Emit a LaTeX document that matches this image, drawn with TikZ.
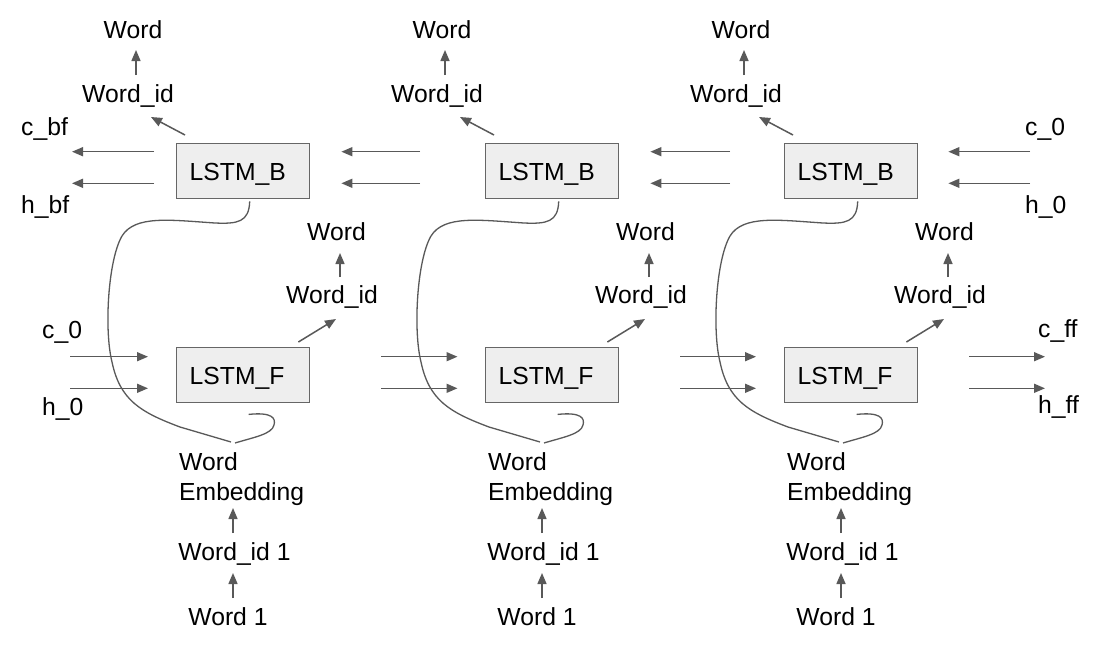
\documentclass[tikz,border=0pt]{standalone}
\usepackage{fontspec}
\setmainfont{Liberation Sans}
\usetikzlibrary{arrows.meta}
\definecolor{linegray}{HTML}{595959}
\definecolor{boxgray}{HTML}{EEEEEE}
\definecolor{boxline}{HTML}{666666}
\tikzset{
  lbl/.style={inner sep=0pt, font=\fontsize{24.7}{30}\selectfont, anchor=base},
  lblw/.style={lbl, anchor=base west},
  lstm/.style={draw=boxline, fill=boxgray, line width=1.4pt, minimum height=55pt,
    text width=107pt, inner xsep=13pt, inner ysep=0pt, align=left,
    text height=18pt, text depth=0pt, font=\fontsize{24.7}{30}\selectfont, anchor=north west},
  arr/.style={draw=linegray, line width=1.5pt, -{Triangle[length=11pt,width=9pt]}},
  wire/.style={draw=linegray, line width=1.3pt},
}
\begin{document}
\begin{tikzpicture}[x=1pt,y=-1pt]
\path[use as bounding box, fill=white] (0,0) rectangle (1101,646);
\foreach \i/\o in {1/0, 2/309, 3/608} {
  \node[lstm] (B\i) at (176+\o,143) {LSTM\_B};
  \node[lstm] (F\i) at (176+\o,347) {LSTM\_F};
  \node[lbl] (tw\i) at (133+\o,38) {Word};
  \node[lbl] (tid\i) at (128+\o,102) {Word\_id};
  \node[lbl] (mw\i) at (336.5+\o,240) {Word};
  \node[lbl] (mid\i) at (332+\o,303) {Word\_id};
  \node[lbl, anchor=north west, align=left] (emb\i) at (179+\o,452.3) {Word\\Embedding};
  \node[lbl] (wid\i) at (234.5+\o,560) {Word\_id 1};
  \node[lbl] (wone\i) at (228+\o,625) {Word 1};
  % vertical arrows
  \draw[arr] ([xshift=8pt,yshift=27pt]tid\i.base) -- ([xshift=3pt,yshift=-12pt]tw\i.base);
  \draw[arr] ([xshift=8pt,yshift=26pt]mid\i.base) -- ([xshift=3.5pt,yshift=-13pt]mw\i.base);
  \draw[arr] ([xshift=-1.5pt,yshift=27pt]wid\i.base) -- ([xshift=54pt,yshift=-55.7pt]emb\i.north west);
  \draw[arr] ([xshift=5pt,yshift=27pt]wone\i.base) -- ([xshift=-1.5pt,yshift=-13pt]wid\i.base);
  % diagonal arrows
  \draw[arr] ([xshift=9pt,yshift=8pt]B\i.north west) -- ([xshift=23pt,yshift=-15pt]tid\i.base);
  \draw[arr] ([xshift=-12pt,yshift=5pt]F\i.north east) -- ([xshift=4pt,yshift=-16pt]mid\i.base);
  % curves into the embedding
  \begin{scope}[xshift=\o pt]
    \draw[wire] ([xshift=6.5pt,yshift=-2pt]B\i.south)
      .. controls (249,222) and (238,224) .. (215,223)
      .. controls (170,220) and (135,215) .. (122,236)
      .. controls (108,260) and (104,330) .. (112,362)
      .. controls (120,400) and (140,412) .. (180,427)
      -- ([xshift=52pt,yshift=10.3pt]emb\i.north west);
    \draw[wire] ([xshift=5.5pt,yshift=-11pt]F\i.south)
      .. controls (272,412) and (276,418) .. (274,425)
      .. controls (272,434) and (255,437) .. ([xshift=56pt,yshift=9.3pt]emb\i.north west);
  \end{scope}
}
% side labels
\node[lblw] (cbf) at (21,135) {c\_bf};
\node[lblw] (hbf) at (21,213) {h\_bf};
\node[lblw] (cz) at (42,338) {c\_0};
\node[lblw] (hz) at (42,415) {h\_0};
\node[lblw] (czr) at (1025,135) {c\_0};
\node[lblw] (hzr) at (1025,213) {h\_0};
\node[lblw] (cff) at (1038,337) {c\_ff};
\node[lblw] (hff) at (1038,413) {h\_ff};
% free ends
\coordinate (cbfend) at (72,151.7);
\coordinate (hbfend) at (72,183.3);
\coordinate (czrstart) at (1030,151.7);
\coordinate (hzrstart) at (1030,183.3);
\coordinate (czstart) at (70,356.7);
\coordinate (hzstart) at (70,388.3);
\coordinate (cffend) at (1045,356.7);
\coordinate (hffend) at (1045,388.3);
% backward chain
\draw[arr] ([xshift=-22pt,yshift=-8.7pt]B1.north west) -- (cbfend);
\draw[arr] ([xshift=-22pt,yshift=-40.3pt]B1.north west) -- (hbfend);
\draw[arr] ([xshift=-65pt,yshift=-8.7pt]B2.north west) -- ([xshift=31pt,yshift=-8.7pt]B1.north east);
\draw[arr] ([xshift=-65pt,yshift=-40.3pt]B2.north west) -- ([xshift=31pt,yshift=-40.3pt]B1.north east);
\draw[arr] ([xshift=-54pt,yshift=-8.7pt]B3.north west) -- ([xshift=31pt,yshift=-8.7pt]B2.north east);
\draw[arr] ([xshift=-54pt,yshift=-40.3pt]B3.north west) -- ([xshift=31pt,yshift=-40.3pt]B2.north east);
\draw[arr] (czrstart) -- ([xshift=30pt,yshift=-8.7pt]B3.north east);
\draw[arr] (hzrstart) -- ([xshift=30pt,yshift=-40.3pt]B3.north east);
% forward chain
\draw[arr] (czstart) -- ([xshift=-28pt,yshift=-9.7pt]F1.north west);
\draw[arr] (hzstart) -- ([xshift=-28pt,yshift=-41.3pt]F1.north west);
\draw[arr] ([xshift=71pt,yshift=-9.7pt]F1.north east) -- ([xshift=-27.5pt,yshift=-9.7pt]F2.north west);
\draw[arr] ([xshift=71pt,yshift=-41.3pt]F1.north east) -- ([xshift=-27.5pt,yshift=-41.3pt]F2.north west);
\draw[arr] ([xshift=61pt,yshift=-9.7pt]F2.north east) -- ([xshift=-28pt,yshift=-9.7pt]F3.north west);
\draw[arr] ([xshift=61pt,yshift=-41.3pt]F2.north east) -- ([xshift=-28pt,yshift=-41.3pt]F3.north west);
\draw[arr] ([xshift=51pt,yshift=-9.7pt]F3.north east) -- (cffend);
\draw[arr] ([xshift=51pt,yshift=-41.3pt]F3.north east) -- (hffend);
\end{tikzpicture}
\end{document}
